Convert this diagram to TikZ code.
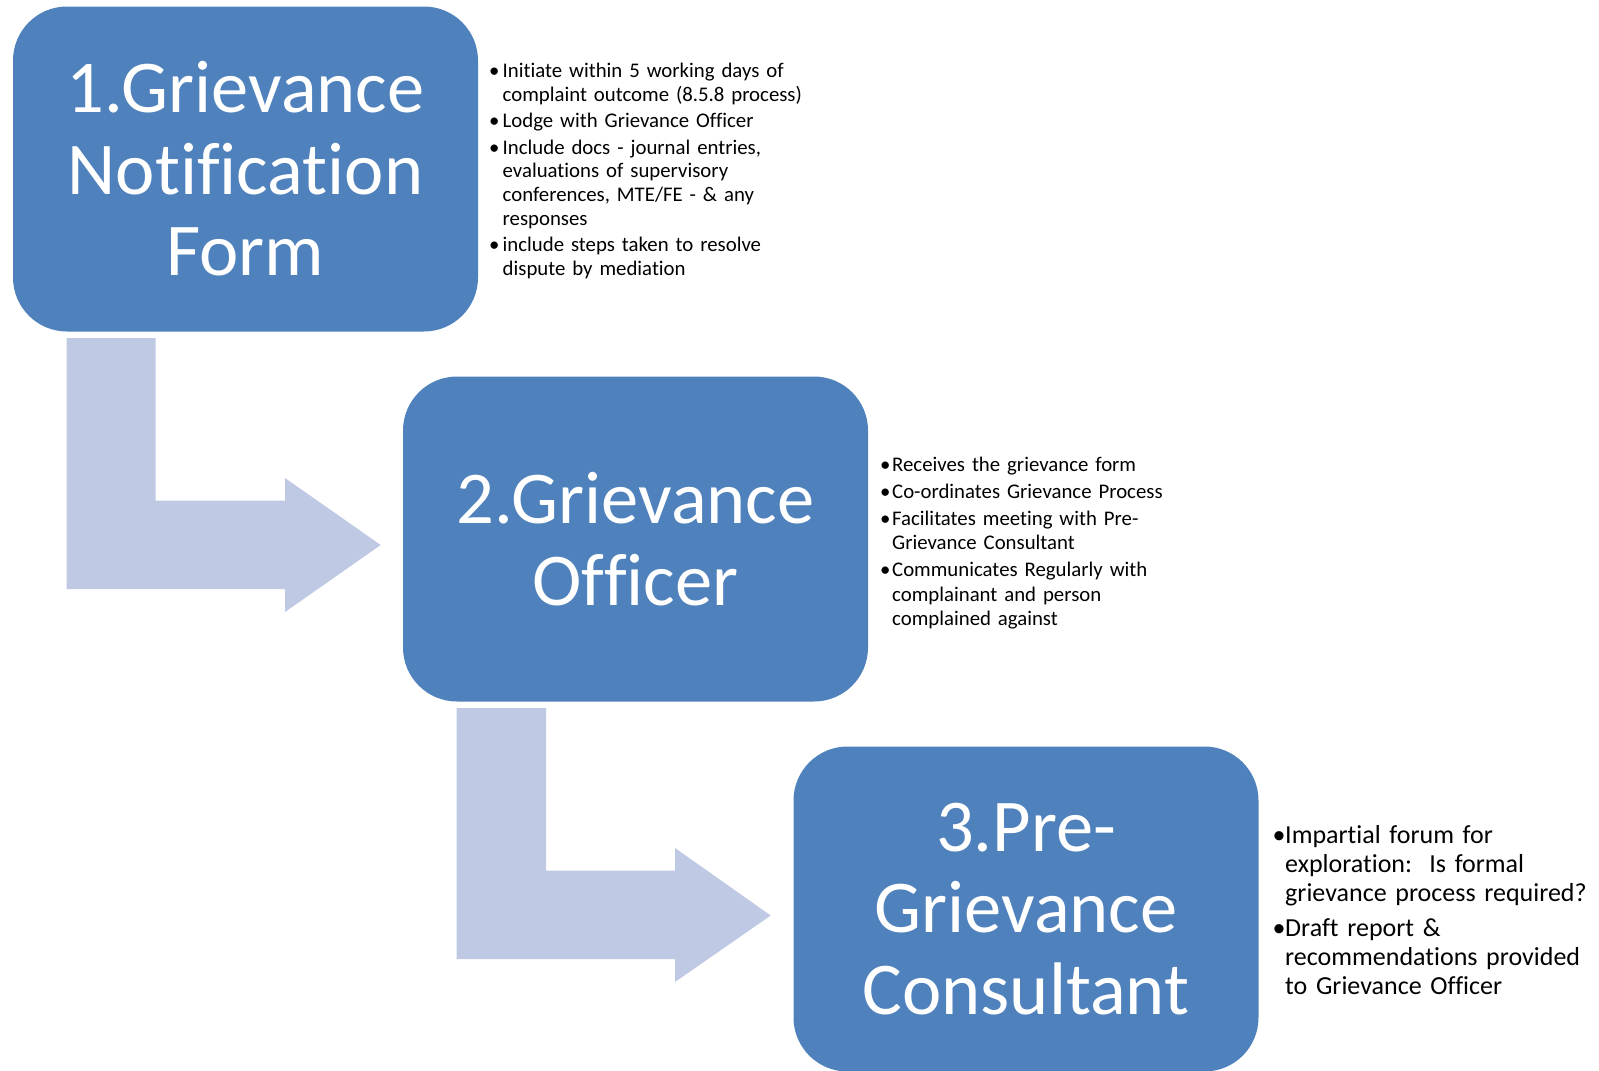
\documentclass[tikz,border=0pt]{standalone}
\usepackage{fontspec}
\setmainfont{Carlito}[Ligatures=NoCommon]
\definecolor{boxblue}{RGB}{79,129,189}
\definecolor{arrowfill}{RGB}{191,201,227}
\newcommand{\bitem}[2]{\noindent\hangindent=#1\hangafter=1\makebox[#1][l]{\hbox to 7pt{\hss\textbullet\hss}}#2\par}
\begin{document}
\begin{tikzpicture}[x=1pt,y=-1pt,
  stagebox/.style={draw=none,fill=boxblue,rounded corners=54pt,minimum width=465pt,minimum height=325pt,inner sep=0pt,text=white,align=center,font=\fontsize{74.5}{81.5}\selectfont},
  bendarrow/.style={fill=arrowfill,draw=none},
  notes/.style={anchor=base west,inner sep=0pt,text=black},
  smallnotes/.style={notes,font=\fontsize{20.8}{23.8}\selectfont},
  bignotes/.style={notes,font=\fontsize{26}{29}\selectfont}]
\useasboundingbox (0,0) rectangle (1599,1071);
% bent arrows
\path[bendarrow] (66.7,338) -- (155.7,338) -- (155.7,500.7) -- (285,500.7) -- (285,478) -- (380.7,545) -- (285,612) -- (285,589) -- (66.7,589) -- cycle;
\path[bendarrow] (456.7,708) -- (546,708) -- (546,870.7) -- (675,870.7) -- (675,848) -- (770.7,915.5) -- (675,982) -- (675,959) -- (456.7,959) -- cycle;
% stage boxes
\node[stagebox] (s1) at (245.5,169) {1.Grievance\\Notification\\Form};
\node[stagebox] (s2) at (635.5,539) {2.Grievance\\Officer};
\node[stagebox] (s3) at (1026,909) {3.Pre-\\Grievance\\Consultant};
% notes
\node[smallnotes,text width=340pt] (n1) at (490.5,77.5) {\raggedright\setlength{\parskip}{2.6pt}%
\bitem{12pt}{Initiate within 5 working days of\newline complaint outcome (8.5.8 process)}%
\bitem{12pt}{Lodge with Grievance Officer}%
\bitem{12pt}{Include docs - journal entries,\newline evaluations of supervisory\newline conferences, MTE/FE - \& any\newline responses}%
\bitem{12pt}{include steps taken to resolve\newline dispute by mediation}};
\node[smallnotes,text width=330pt] (n2) at (881.5,471) {\raggedright\fontsize{20.8}{24.2}\selectfont\setlength{\parskip}{3pt}%
\bitem{10.5pt}{Receives the grievance form}%
\bitem{10.5pt}{Co-ordinates Grievance Process}%
\bitem{10.5pt}{Facilitates meeting with Pre-\newline Grievance Consultant}%
\bitem{10.5pt}{Communicates Regularly with\newline complainant and person\newline complained against}};
\node[bignotes,text width=330pt] (n3) at (1275.5,843) {\raggedright\setlength{\parskip}{6.2pt}%
\bitem{9.5pt}{Impartial forum for\newline exploration:\ \ Is formal\newline grievance process required?}%
\bitem{9.5pt}{Draft report \&\newline recommendations provided\newline to Grievance Officer}};
\end{tikzpicture}
\end{document}
